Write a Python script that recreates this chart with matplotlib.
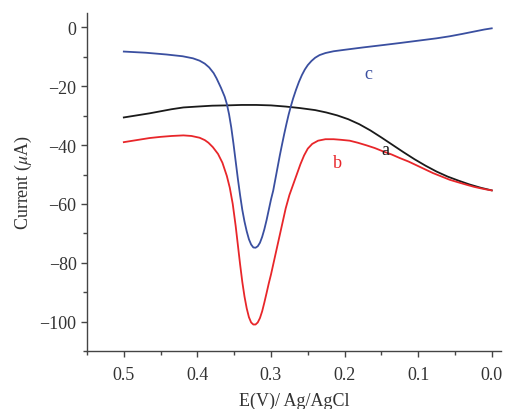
import matplotlib
matplotlib.use("Agg")
import matplotlib.pyplot as plt
from matplotlib.ticker import MultipleLocator

plt.rcParams['font.family'] = ['Liberation Serif', 'DejaVu Serif']
plt.rcParams['mathtext.fontset'] = 'stix'

# curve a (black)
e_a = [0.500, 0.480, 0.465, 0.450, 0.435, 0.419, 0.400, 0.380, 0.360, 0.340, 0.320,
       0.300, 0.280, 0.261, 0.240, 0.225, 0.210, 0.195, 0.180, 0.165, 0.150, 0.135,
       0.120, 0.105, 0.090, 0.075, 0.060, 0.045, 0.030, 0.015, 0.000]
i_a = [-30.6, -29.8, -29.2, -28.5, -27.8, -27.2, -26.9, -26.6, -26.5, -26.35, -26.35,
       -26.5, -26.9, -27.4, -28.1, -28.9, -29.9, -31.2, -32.9, -35.0, -37.4, -39.9,
       -42.4, -44.8, -47.0, -49.0, -50.7, -52.1, -53.4, -54.5, -55.4]

# curve b (red)
e_b = [0.500, 0.480, 0.465, 0.450, 0.435, 0.419, 0.408, 0.397, 0.390, 0.385, 0.379,
       0.372, 0.366, 0.360, 0.356, 0.352, 0.348, 0.345, 0.342, 0.339, 0.336, 0.333,
       0.330, 0.327, 0.324, 0.321, 0.318, 0.315, 0.312, 0.309, 0.306, 0.303, 0.300,
       0.296, 0.292, 0.288, 0.284, 0.280, 0.275, 0.270, 0.265, 0.260, 0.255, 0.250,
       0.244, 0.236, 0.226, 0.215, 0.205, 0.193, 0.182, 0.170, 0.159, 0.148, 0.136,
       0.125, 0.113, 0.102, 0.091, 0.080, 0.068, 0.057, 0.045, 0.034, 0.024, 0.015,
       0.007, 0.000]
i_b = [-39.0, -38.2, -37.6, -37.2, -36.9, -36.7, -36.9, -37.5, -38.3, -39.2, -40.7,
       -43.0, -46.0, -50.5, -54.5, -60.0, -67.5, -74.0, -80.5, -86.5, -91.5, -95.5,
       -98.5, -100.3, -101.0, -101.0, -100.3, -98.8, -96.5, -93.5, -90.3, -87.0, -84.0,
       -79.5, -75.0, -70.5, -66.0, -61.5, -57.0, -53.5, -50.0, -46.5, -43.5, -41.2,
       -39.6, -38.5, -38.0, -38.0, -38.2, -38.5, -39.2, -40.1, -41.0, -42.1, -43.2,
       -44.4, -45.6, -46.9, -48.2, -49.5, -50.7, -51.8, -52.7, -53.5, -54.2, -54.7,
       -55.1, -55.4]

# curve c (blue)
e_c = [0.500, 0.470, 0.442, 0.420, 0.406, 0.397, 0.390, 0.384, 0.378, 0.374, 0.368,
       0.363, 0.360, 0.357, 0.354, 0.351, 0.348, 0.345, 0.342, 0.339, 0.336, 0.333,
       0.330, 0.327, 0.324, 0.321, 0.318, 0.315, 0.312, 0.309, 0.306, 0.303, 0.300,
       0.297, 0.294, 0.291, 0.288, 0.285, 0.282, 0.279, 0.276, 0.273, 0.270, 0.266,
       0.262, 0.258, 0.254, 0.250, 0.245, 0.240, 0.234, 0.226, 0.215, 0.200, 0.175,
       0.148, 0.125, 0.100, 0.075, 0.057, 0.040, 0.020, 0.010, 0.000]
i_c = [-8.2, -8.6, -9.2, -9.8, -10.5, -11.3, -12.3, -13.6, -15.5, -17.3, -20.5,
       -23.5, -26.0, -29.5, -34.0, -39.5, -45.5, -51.5, -57.0, -62.0, -66.0, -69.3,
       -72.0, -73.8, -74.8, -74.9, -74.4, -73.2, -71.2, -68.6, -65.5, -62.0, -58.5,
       -55.5, -51.5, -47.5, -43.5, -39.8, -36.2, -32.8, -29.6, -26.8, -24.2, -21.2,
       -18.5, -16.2, -14.3, -12.8, -11.4, -10.3, -9.4, -8.7, -8.1, -7.6, -6.8,
       -6.0, -5.3, -4.5, -3.7, -3.0, -2.2, -1.2, -0.7, -0.3]

fig = plt.figure(figsize=(5.06, 4.10), dpi=100)
ax = fig.add_axes([0.172, 0.1415, 0.818, 0.825])

ax.plot(e_a, i_a, color='#1a1a1a', lw=1.3)
ax.plot(e_b, i_b, color='#e8262a', lw=1.3)
ax.plot(e_c, i_c, color='#3a4fa0', lw=1.3)

ax.text(0.168, -15.6, 'c', color='#3a4fa0', fontsize=13, ha='center', va='center')
ax.text(0.209, -45.8, 'b', color='#e8262a', fontsize=13, ha='center', va='center')
ax.text(0.145, -41.4, 'a', color='#1a1a1a', fontsize=13, ha='center', va='center')

ax.set_xlim(0.55, -0.0125)
ax.set_ylim(-110, 5)
ax.xaxis.set_major_locator(MultipleLocator(0.1))
ax.xaxis.set_minor_locator(MultipleLocator(0.05))
ax.yaxis.set_major_locator(MultipleLocator(20))
ax.yaxis.set_minor_locator(MultipleLocator(10))
ax.xaxis.set_major_formatter(plt.FuncFormatter(lambda v, p: f"{abs(v):.1f}"))
ax.yaxis.set_major_formatter(plt.FuncFormatter(lambda v, p: f"{v:.0f}".replace('-', '\u2212')))

for s in ['top', 'right']:
    ax.spines[s].set_visible(False)
for s in ['left', 'bottom']:
    ax.spines[s].set_color('#444444')
    ax.spines[s].set_linewidth(1.0)
ax.tick_params(which='major', direction='out', length=4, width=1.0, color='#444444',
               labelsize=13, labelcolor='#333333')
ax.tick_params(axis='x', which='major', pad=7)
ax.tick_params(which='minor', direction='out', length=3, width=1.0, color='#444444')

ax.set_xlabel('E(V)/ Ag/AgCl', fontsize=13, color='#333333', labelpad=6)
ax.set_ylabel('Current ($\\mu$A)', fontsize=13, color='#333333', labelpad=4)

fig.savefig('out.png', dpi=100)
